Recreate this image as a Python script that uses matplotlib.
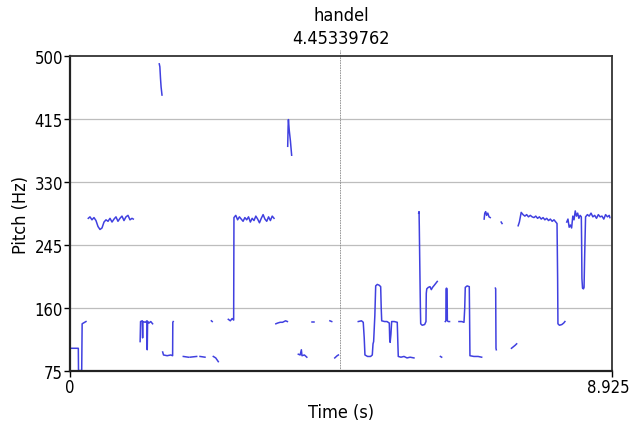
import numpy as np
import matplotlib.pyplot as plt
from matplotlib.transforms import ScaledTranslation

plt.rcParams['font.family'] = ['DejaVu Sans']
plt.rcParams['font.stretch'] = 'condensed'

SOUND_NAME = "handel"
T_MAX = 8.925
F_MIN, F_MAX = 75, 500
CURSOR = 4.45339762
Y_TICKS = [75, 160, 245, 330, 415, 500]

# ===== Pitch track, one pair of lists per voiced stretch =====
t01 = [0.028, 0.137, 0.140, 0.190, 0.193, 0.200, 0.263]
f01 = [106, 106, 76, 76, 77, 139, 142]

t02 = [0.301, 0.329, 0.362, 0.395, 0.428, 0.461, 0.494, 0.527, 0.560, 0.593, 0.626,
       0.659, 0.692, 0.725, 0.757, 0.790, 0.823, 0.856, 0.889, 0.922, 0.955, 0.988,
       1.021, 1.042]
f02 = [281, 283, 279, 282, 278, 270, 266, 268, 276, 279, 277,
       281, 276, 280, 283, 277, 281, 284, 278, 283, 285, 279,
       281, 280]

t03 = [1.155, 1.162, 1.190, 1.196, 1.200, 1.240, 1.268, 1.272, 1.278, 1.300, 1.330, 1.360]
f03 = [115, 142, 143, 120, 142, 141, 143, 104, 142, 140, 142, 139]

t04 = [1.470, 1.480, 1.490, 1.500, 1.515]
f04 = [489, 485, 470, 458, 447]

t05 = [1.526, 1.540, 1.600, 1.660, 1.690, 1.693, 1.700]
f05 = [101, 97, 96, 97, 96, 141, 142]

t06 = [1.866, 1.948]
f06 = [95, 94]
t07 = [1.976, 2.086]
f07 = [94, 95]
t08 = [2.141, 2.223]
f08 = [95, 94]
t09 = [2.360, 2.400, 2.442]
f09 = [95, 93, 88]
t10 = [2.328, 2.342]
f10 = [143, 142]

t11 = [2.607, 2.640, 2.670, 2.695, 2.700, 2.730, 2.760, 2.790, 2.820, 2.850, 2.880,
       2.910, 2.940, 2.970, 3.000, 3.030, 3.060, 3.090, 3.120, 3.150, 3.180, 3.210,
       3.240, 3.270, 3.300, 3.330, 3.360]
f11 = [145, 143, 146, 144, 282, 285, 279, 283, 280, 277, 282,
       279, 283, 276, 281, 278, 284, 280, 275, 281, 286, 280,
       277, 283, 278, 284, 281]

t12 = [3.390, 3.420, 3.460, 3.500, 3.550, 3.580]
f12 = [139, 140, 141, 141, 143, 142]

t13 = [3.585, 3.592, 3.597, 3.610, 3.630, 3.650]
f13 = [378, 405, 414, 400, 385, 366]

t14 = [3.760, 3.790, 3.810, 3.820, 3.860, 3.900]
f14 = [98, 97, 104, 96, 97, 94]

t15 = [3.980, 4.010]
f15 = [142, 142]
t16 = [4.280, 4.310]
f16 = [143, 142]
t17 = [4.360, 4.400, 4.420]
f17 = [93, 96, 97]

t18 = [4.747, 4.800, 4.829, 4.845, 4.857, 4.900, 4.950, 4.978, 4.990, 5.000, 5.020,
       5.034, 5.060, 5.090, 5.116, 5.125, 5.133, 5.180, 5.220, 5.258, 5.265, 5.272,
       5.285, 5.297, 5.340, 5.389, 5.400, 5.406, 5.450, 5.500, 5.550, 5.600, 5.664]
f18 = [142, 143, 141, 120, 97, 95, 95, 97, 112, 115, 150,
       190, 192, 191, 189, 160, 143, 142, 142, 140, 118, 114,
       125, 142, 142, 141, 110, 95, 94, 95, 93, 94, 93]

t19 = [5.742, 5.748, 5.752, 5.760, 5.770, 5.775, 5.800, 5.840, 5.862, 5.867, 5.875,
       5.900, 5.928, 5.950, 5.970, 6.000, 6.048]
f19 = [288, 290, 270, 220, 160, 139, 137, 138, 142, 180, 186,
       188, 189, 185, 188, 191, 196]

t20 = [6.100, 6.120]
f20 = [95, 94]

t21 = [6.180, 6.190, 6.192, 6.200, 6.210, 6.214, 6.230, 6.250]
f21 = [142, 143, 186, 187, 186, 143, 142, 142]

t22 = [6.405, 6.450, 6.488, 6.500, 6.509, 6.540, 6.575, 6.580, 6.586, 6.650, 6.720, 6.779]
f22 = [142, 142, 141, 160, 188, 190, 189, 150, 96, 95, 95, 94]

t23 = [6.820, 6.830, 6.845, 6.860, 6.880, 6.900, 6.920]
f23 = [280, 288, 290, 285, 288, 283, 282]

t24 = [7.005, 7.010, 7.012, 7.015, 7.020]
f24 = [187, 186, 150, 106, 104]

t25 = [7.100, 7.115]
f25 = [276, 274]

t26 = [7.270, 7.300, 7.330, 7.355]
f26 = [106, 108, 110, 112]

t27 = [7.380, 7.400, 7.430, 7.460, 7.490, 7.520, 7.550, 7.580, 7.610, 7.640, 7.670,
       7.700, 7.730, 7.760, 7.790, 7.820, 7.850, 7.880, 7.910, 7.940, 7.970, 8.000,
       8.020, 8.030, 8.035, 8.060, 8.100, 8.130, 8.150]
f27 = [271, 276, 289, 286, 284, 286, 283, 285, 283, 282, 284,
       281, 283, 280, 282, 279, 281, 278, 280, 277, 279, 276,
       274, 200, 139, 137, 138, 140, 142]

t28 = [8.180, 8.200, 8.220, 8.240, 8.260, 8.280, 8.300, 8.320, 8.340, 8.360, 8.380,
       8.400, 8.420, 8.425, 8.430, 8.440, 8.455, 8.465, 8.475, 8.490, 8.520, 8.550,
       8.580, 8.610, 8.640, 8.670, 8.700, 8.730, 8.760, 8.790, 8.820, 8.850, 8.880, 8.890]
f28 = [276, 280, 269, 272, 268, 284, 279, 291, 284, 288, 281,
       285, 283, 250, 200, 187, 186, 188, 230, 283, 286, 284,
       288, 283, 285, 281, 286, 283, 284, 280, 286, 283, 285, 282]

segments = [
    (t01, f01), (t02, f02), (t03, f03), (t04, f04), (t05, f05), (t06, f06), (t07, f07),
    (t08, f08), (t09, f09), (t10, f10), (t11, f11), (t12, f12), (t13, f13), (t14, f14),
    (t15, f15), (t16, f16), (t17, f17), (t18, f18), (t19, f19), (t20, f20), (t21, f21),
    (t22, f22), (t23, f23), (t24, f24), (t25, f25), (t26, f26), (t27, f27), (t28, f28),
]

# ===== Plot =====
fig = plt.figure(figsize=(6.3, 4.27), dpi=100)
ax = fig.add_axes([0.1111, 0.1281, 0.8603, 0.7391])

for y in Y_TICKS[1:-1]:
    ax.axhline(y, color="#bdbdbd", lw=0.9, zorder=1)
ax.axvline(CURSOR, ymin=0, ymax=1.018, color="#8a8a8a", lw=0.6, ls=(0, (2, 1)),
           zorder=1, clip_on=False)

for t, f in segments:
    ax.plot(t, f, color="#4040e0", lw=1.1, zorder=2)

ax.set_xlim(0, T_MAX)
ax.set_ylim(F_MIN, F_MAX)
ax.set_xticks([0, T_MAX])
ax.set_xticklabels(["0", "8.925"])
ax.set_yticks(Y_TICKS)
ax.tick_params(axis="both", labelsize=12, length=4, width=1, pad=1, colors="black")

# keep the end-time label inside the figure
end_label = ax.get_xticklabels()[-1]
end_label.set_transform(end_label.get_transform() + ScaledTranslation(-3 / 72, 0, fig.dpi_scale_trans))

for side in ["left", "bottom"]:
    ax.spines[side].set_linewidth(1.6)
    ax.spines[side].set_color("#222222")
for side in ["top", "right"]:
    ax.spines[side].set_linewidth(1.3)
    ax.spines[side].set_color("#333333")

ax.set_title(f"{SOUND_NAME}\n{CURSOR:.8f}", fontsize=13, pad=9, linespacing=1.35)
ax.set_xlabel("Time (s)", fontsize=13, labelpad=5)
ax.set_ylabel("Pitch (Hz)", fontsize=13, labelpad=3)

fig.savefig("out.png", dpi=100)
